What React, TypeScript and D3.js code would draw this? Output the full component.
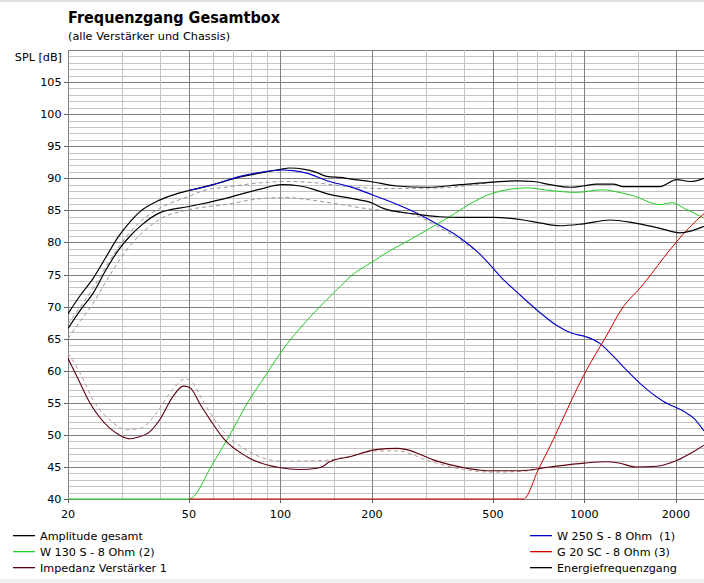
import React from "react";
import * as d3 from "d3";

type P = [number, number];

// Amplitude gesamt (black, upper)
const amplitude: P[] = [
  [20, 68.9], [22, 71.8], [24.2, 74.4], [26.5, 77.5], [29.3, 80.9], [32, 83.2], [34.5, 84.8],
  [40, 86.6], [45, 87.5], [50, 88.1], [60, 89.0], [73.6, 90.2], [85, 90.8], [100, 91.4],
  [107, 91.6], [120, 91.4], [130, 91.0], [142, 90.3], [160, 90.1], [169, 89.9], [197, 89.5],
  [241, 88.8], [303, 88.6], [390, 89.0], [501, 89.4], [598, 89.6], [679, 89.5], [770, 89.0],
  [896, 88.6], [990, 88.8], [1096, 89.1], [1244, 89.1], [1342, 88.7], [1772, 88.7],
  [2010, 89.8], [2224, 89.5], [2472, 90.0],
];

// Energiefrequenzgang (black, lower)
const energy: P[] = [
  [20, 66.6], [22, 69.5], [24.2, 72.1], [26.5, 75.5], [29.3, 78.8], [32, 81.0], [34.9, 82.7],
  [40, 84.6], [50, 85.6], [66.5, 86.9], [73.6, 87.5], [85.6, 88.3], [101, 89.0], [116, 88.8],
  [130, 88.2], [142, 87.6], [169, 86.9], [201, 86.1], [218, 85.3], [280, 84.4], [335, 84.0],
  [390, 83.9], [501, 83.9], [630, 83.5], [720, 83.0], [830, 82.6], [990, 82.9], [1216, 83.5],
  [1440, 83.1], [1772, 82.2], [2060, 81.5], [2250, 81.8], [2472, 82.5],
];

// W 250 S - 8 Ohm (1)
const w250: P[] = [
  [50, 88.1], [60, 89.0], [73.6, 90.3], [85, 90.9], [101, 91.3], [110, 91.2], [122, 90.8],
  [145, 89.5], [169, 88.7], [201, 87.4], [240, 86.0], [280, 84.6], [335, 82.6], [390, 80.7],
  [450, 78.3], [489, 76.5], [541, 74.2], [598, 72.3], [708, 69.2], [808, 67.1], [915, 65.8],
  [1010, 65.3], [1120, 64.3], [1230, 62.5], [1342, 60.6], [1525, 58.0], [1820, 55.2],
  [2130, 53.6], [2300, 52.5], [2472, 50.6],
];

// W 130 S - 8 Ohm (2)
const w130: P[] = [
  [20, 40], [50, 40], [60, 45.6], [70, 51.0], [77, 54.6], [90, 59.5], [99, 62.5], [127, 68.7],
  [157, 73.1], [169, 74.6], [201, 77.0], [218, 78.1], [266, 80.4], [280, 81.0], [360, 84.0],
  [420, 86.0], [501, 87.7], [649, 88.5], [770, 88.1], [940, 87.8], [1147, 88.2], [1300, 87.8],
  [1440, 87.3], [1772, 85.9], [1950, 86.2], [2130, 85.3], [2472, 83.8],
];

// G 20 SC - 8 Ohm (3)
const g20: P[] = [
  [50, 40], [630, 40], [705, 44.6], [790, 49.3], [896, 54.9], [1010, 59.9], [1170, 65.1],
  [1342, 70.0], [1525, 72.9], [1667, 75.2], [1820, 77.6], [2010, 80.1], [2200, 82.2], [2472, 84.5],
];

// Impedanz Verstärker 1
const impedance: P[] = [
  [20, 61.9], [21.4, 59.1], [23.6, 55.0], [27.5, 51.0], [30.0, 49.8], [32.0, 49.4],
  [33.7, 49.6], [37.2, 50.5], [40.1, 52.4], [44.3, 56.0], [47.9, 57.6], [50.3, 57.4],
  [54.5, 54.7], [58.8, 52.3], [65, 49.4], [77.5, 46.6], [99, 44.9], [116, 44.6], [132, 44.8],
  [138, 45.1], [145, 45.8], [169, 46.6], [206, 47.7], [241, 47.9], [260, 47.7], [318, 46.1],
  [409, 44.8], [501, 44.4], [614, 44.4], [770, 45.0], [1000, 45.6], [1175, 45.8], [1300, 45.6],
  [1476, 45.0], [1725, 45.1], [2010, 46.0], [2250, 47.2], [2472, 48.4],
];

// older (dashed) curves
const amplitudeOld: P[] = [
  [20, 67.3], [22, 70.0], [24.2, 72.9], [26.5, 76.0], [29.3, 79.2], [32, 81.6], [34.5, 83.2],
  [40, 85.3], [50, 87.2], [57, 88.2], [66, 88.6], [86, 89.3], [105, 89.5], [130, 89.3],
  [160, 88.8], [220, 88.4], [335, 88.5], [450, 89.1], [501, 89.4],
];
const energyOld: P[] = [
  [20, 65.0], [22, 67.8], [24.2, 70.5], [26.5, 73.7], [29.3, 77.0], [32, 79.5], [34.9, 81.4],
  [40, 83.6], [50, 85.1], [66, 85.9], [85, 86.8], [105, 87.0], [122, 86.7], [149, 86.1],
  [197, 85.2], [240, 84.8], [280, 84.2], [327, 82.5], [390, 80.4], [430, 79.0],
];
const impedanceOld: P[] = [
  [20, 62.7], [22, 59.5], [24.2, 55.4], [27.5, 52.3], [31.2, 50.8], [34.5, 51.0], [37, 52.0],
  [40, 54.1], [44, 57.0], [48.6, 58.7], [51.6, 58.0], [55, 55.7], [58.8, 53.4], [65, 50.5],
  [77.5, 47.6], [100, 45.9], [138, 46.0], [170, 46.7], [206, 47.5], [241, 47.5], [310, 45.9],
  [400, 44.6], [501, 44.2], [614, 44.3], [770, 45.0],
];

const xTickLabels = [20, 50, 100, 200, 500, 1000, 2000];
const xMinorGrid = [30, 40, 60, 70, 80, 90, 150, 300, 400, 600, 700, 800, 900, 1500];
const xMajorGrid = [50, 100, 200, 500, 1000, 2000];
const yTickLabels = [40, 45, 50, 55, 60, 65, 70, 75, 80, 85, 90, 95, 100, 105];

const FONT = "'DejaVu Sans', Verdana, sans-serif";

export default function App() {
  const W = 704;
  const H = 583;
  const left = 68;
  const top = 50;
  const bottom = 499;
  const right = 704;
  const x = d3.scaleLog().domain([20, 20000]).range([left, left + 304 * 3]);
  const y = d3.scaleLinear().domain([40, 110]).range([bottom, top]);
  const line = d3
    .line<P>()
    .x((d) => x(d[0]))
    .y((d) => y(d[1]))
    .curve(d3.curveMonotoneX);

  const hLines = d3.range(40, 111, 1);

  const curves: { data: P[]; color: string; w: number; dash?: string }[] = [
    { data: impedanceOld, color: "#b89a9a", w: 1, dash: "4,3" },
    { data: amplitudeOld, color: "#9494aa", w: 1, dash: "4,3" },
    { data: energyOld, color: "#9494aa", w: 1, dash: "4,3" },
    { data: amplitude, color: "#000000", w: 1.2 },
    { data: w250, color: "#0000c8", w: 1.1 },
    { data: w130, color: "#22cc22", w: 1 },
    { data: g20, color: "#d00000", w: 1 },
    { data: impedance, color: "#600010", w: 1.1 },
    { data: energy, color: "#000000", w: 1.2 },
  ];

  const legendLeft = [
    { label: "Amplitude gesamt", color: "#000000" },
    { label: "W 130 S - 8 Ohm (2)", color: "#22cc22" },
    { label: "Impedanz Verstärker 1", color: "#600010" },
  ];
  const legendRight = [
    { label: "W 250 S - 8 Ohm  (1)", color: "#0000c8" },
    { label: "G 20 SC - 8 Ohm (3)", color: "#d00000" },
    { label: "Energiefrequenzgang", color: "#000000" },
  ];

  return (
    <div style={{ position: "absolute", left: 0, top: 0 }}>
      <svg width={W} height={H} style={{ display: "block" }} fontFamily={FONT}>
        <defs>
          <clipPath id="plotclip">
            <rect x={left} y={top - 1} width={right - left} height={bottom - top + 2} />
          </clipPath>
        </defs>
        <rect x={0} y={0} width={W} height={H} fill="#ffffff" />
        <rect x={0} y={0} width={W} height={2} fill="#e2e2e2" />
        <rect x={0} y={579} width={W} height={4} fill="#f0f0f0" />

        <text x={68} y={23} fontSize={15} fontWeight="bold" textLength={212} lengthAdjust="spacingAndGlyphs" fill="#000">
          Frequenzgang Gesamtbox
        </text>
        <text x={68} y={40} fontSize={11.3} fill="#000">
          (alle Verstärker und Chassis)
        </text>
        <text x={62} y={60.5} fontSize={11.2} textAnchor="end" fill="#000">
          SPL [dB]
        </text>

        <g clipPath="url(#plotclip)">
          {hLines.map((v) => (
            <line
              key={"h" + v}
              x1={left}
              x2={right}
              y1={Math.round(y(v)) + 0.5}
              y2={Math.round(y(v)) + 0.5}
              stroke={v % 5 === 0 ? "#808080" : "#c4c4c4"}
              strokeWidth={1}
            />
          ))}
          {xMinorGrid.map((f) => (
            <line
              key={"vm" + f}
              x1={Math.round(x(f)) + 0.5}
              x2={Math.round(x(f)) + 0.5}
              y1={top}
              y2={bottom}
              stroke="#c4c4c4"
              strokeWidth={1}
            />
          ))}
          {xMajorGrid.map((f) => (
            <line
              key={"vM" + f}
              x1={Math.round(x(f)) + 0.5}
              x2={Math.round(x(f)) + 0.5}
              y1={top}
              y2={bottom}
              stroke="#808080"
              strokeWidth={1}
            />
          ))}
          <line x1={left + 0.5} x2={left + 0.5} y1={top} y2={bottom} stroke="#808080" />
          {curves.map((c, i) => (
            <path
              key={"c" + i}
              d={line(c.data) || ""}
              fill="none"
              stroke={c.color}
              strokeWidth={c.w}
              strokeDasharray={c.dash}
            />
          ))}
        </g>

        {yTickLabels.map((v) => (
          <g key={"yt" + v}>
            <line x1={64} x2={68} y1={Math.round(y(v)) + 0.5} y2={Math.round(y(v)) + 0.5} stroke="#606060" />
            <text x={61.5} y={y(v) + 4} fontSize={11.2} textAnchor="end" fill="#000">
              {v}
            </text>
          </g>
        ))}
        {xTickLabels.map((f) => (
          <g key={"xt" + f}>
            <line x1={Math.round(x(f)) + 0.5} x2={Math.round(x(f)) + 0.5} y1={499} y2={503} stroke="#606060" />
            <text x={x(f)} y={517.5} fontSize={11.2} textAnchor="middle" fill="#000">
              {f}
            </text>
          </g>
        ))}

        {legendLeft.map((l, i) => (
          <g key={"ll" + i}>
            <rect x={13} y={535 + i * 16} width={22} height={1.3} fill={l.color} />
            <text x={40} y={540 + i * 16} fontSize={11.2} fill="#000">
              {l.label}
            </text>
          </g>
        ))}
        {legendRight.map((l, i) => (
          <g key={"lr" + i}>
            <rect x={530} y={535 + i * 16} width={22} height={1.3} fill={l.color} />
            <text x={557} y={540 + i * 16} fontSize={11.2} fill="#000" style={{ whiteSpace: "pre" }}>
              {l.label}
            </text>
          </g>
        ))}
      </svg>
    </div>
  );
}
